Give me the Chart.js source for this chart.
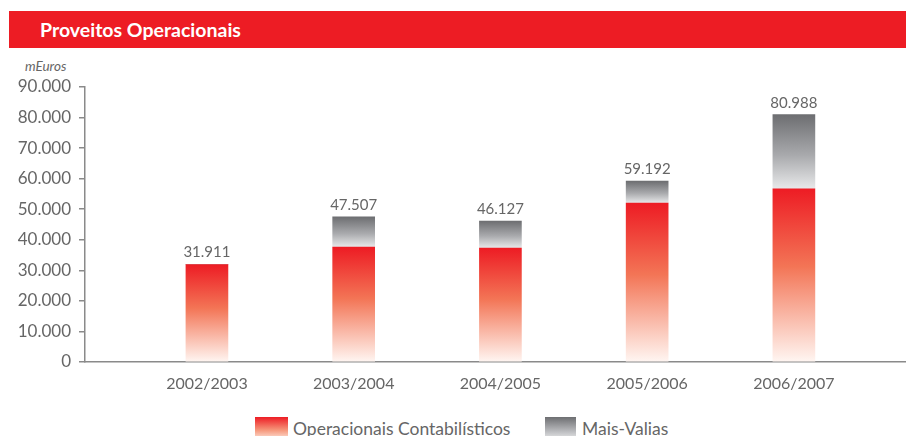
<!DOCTYPE html>
<html>
<head>
<meta charset="utf-8">
<script src="https://cdn.jsdelivr.net/npm/chart.js@4.4.1/dist/chart.umd.min.js"></script>
<style>
  body { margin: 0; background: #fff; width: 906px; height: 436px; overflow: hidden; position: relative; font-family: Lato, "Noto Sans", sans-serif; }
  #banner { position: absolute; left: 9px; top: 11px; width: 897px; height: 37px; background: #ED1C24; color: #fff; font-weight: bold; font-size: 19.5px; line-height: 37px; padding-left: 31px; box-sizing: border-box; }
  #unit { position: absolute; left: 25px; top: 58px; font-size: 13.5px; font-style: italic; color: #666; }
  #chart { position: absolute; left: 0; top: 0; }
  .lg { position: absolute; top: 418px; height: 22px; font-size: 17.5px; color: #666; }
  .sw { position: absolute; top: 417px; height: 22px; }
</style>
</head>
<body>
<div id="banner">Proveitos Operacionais</div>
<div id="unit">mEuros</div>
<canvas id="chart" width="906" height="400"></canvas>
<div class="sw" style="left:255px;width:33px;background:linear-gradient(#ED1C24,#F6987C 60%,#FDE3D8);"></div>
<div class="lg" style="left:293px;">Operacionais Contabilísticos</div>
<div class="sw" style="left:545px;width:31px;background:linear-gradient(#6D6E71,#B5B6B9 60%,#E6E7E8);"></div>
<div class="lg" style="left:582px;">Mais-Valias</div>
<script>
// values (mEuros)
const years = ["2002/2003", "2003/2004", "2004/2005", "2005/2006", "2006/2007"];
const operacionais = [31911, 37600, 37300, 52000, 56700];
const maisValias = [0, 9907, 8827, 7192, 24288];
const totals = [31911, 47507, 46127, 59192, 80988];
const yTicks = [0, 10000, 20000, 30000, 40000, 50000, 60000, 70000, 80000, 90000];

const fmt = (v) => String(v).replace(/\B(?=(\d{3})+(?!\d))/g, ".");
const axisGray = "#8a8a8a";
const textGray = "#666666";

// vertical gradient per bar segment
const segGradient = (ctx, stops, lo, hi) => {
  const chart = ctx.chart;
  if (!chart.chartArea || ctx.type !== "data") return stops[0][1];
  const y = chart.scales.y;
  const top = y.getPixelForValue(hi(ctx.dataIndex));
  const bottom = y.getPixelForValue(lo(ctx.dataIndex));
  if (Math.abs(bottom - top) < 1) return stops[0][1];
  const g = chart.ctx.createLinearGradient(0, top, 0, bottom);
  stops.forEach((s) => g.addColorStop(s[0], s[1]));
  return g;
};

const redStops = [[0, "#ED1C24"], [0.45, "#F37556"], [1, "#FFF6F2"]];
const grayStops = [[0, "#6D6E71"], [0.55, "#A9AAAD"], [1, "#E8E9EA"]];

const totalLabels = {
  id: "totalLabels",
  afterDatasetsDraw(chart) {
    const c = chart.ctx;
    const m0 = chart.getDatasetMeta(0);
    const m1 = chart.getDatasetMeta(1);
    c.save();
    c.font = "15px Lato, 'Noto Sans', sans-serif";
    c.fillStyle = textGray;
    c.textAlign = "center";
    c.textBaseline = "alphabetic";
    totals.forEach((t, i) => {
      const el = maisValias[i] > 0 ? m1.data[i] : m0.data[i];
      c.fillText(fmt(t), el.x, el.y - 7);
    });
    c.restore();
  },
};

new Chart(document.getElementById("chart"), {
  type: "bar",
  data: {
    datasets: [
      {
        label: "Operacionais Contabilísticos",
        data: operacionais.map((v, i) => ({ x: i, y: v })),
        backgroundColor: (ctx) => segGradient(ctx, redStops, () => 0, (i) => operacionais[i]),
        barThickness: 42,
      },
      {
        label: "Mais-Valias",
        data: maisValias.map((v, i) => ({ x: i, y: v })),
        backgroundColor: (ctx) =>
          segGradient(ctx, grayStops, (i) => operacionais[i], (i) => operacionais[i] + maisValias[i]),
        barThickness: 42,
      },
    ],
  },
  options: {
    responsive: false,
    animation: false,
    layout: { padding: { top: 87, left: 0, right: 0, bottom: 0 } },
    plugins: { legend: { display: false }, tooltip: { enabled: false } },
    scales: {
      x: {
        type: "linear",
        stacked: true,
        offset: false,
        min: -0.831,
        max: 4.764,
        grid: { display: false, drawTicks: false },
        border: { display: true, color: axisGray, width: 1.5 },
        afterBuildTicks: (s) => {
          s.ticks = years.map((y, i) => ({ value: i }));
        },
        afterFit: (s) => {
          s.height = 38;
          s.paddingLeft = 0;
          s.paddingRight = 0;
        },
        ticks: {
          padding: 12,
          color: textGray,
          font: { size: 16, family: "Lato, 'Noto Sans', sans-serif" },
          callback: (v) => years[v] || "",
        },
      },
      y: {
        stacked: true,
        min: 0,
        max: 90000,
        grid: { drawOnChartArea: false, drawTicks: true, tickLength: 6, color: axisGray, lineWidth: 1.5 },
        border: { display: true, color: axisGray, width: 1.5 },
        afterBuildTicks: (s) => {
          s.ticks = yTicks.map((v) => ({ value: v }));
        },
        afterFit: (s) => {
          s.width = 85;
        },
        ticks: {
          padding: 8,
          color: textGray,
          font: { size: 17, family: "Lato, 'Noto Sans', sans-serif" },
          callback: (v) => fmt(v),
        },
      },
    },
  },
  plugins: [totalLabels],
});
</script>
</body>
</html>
